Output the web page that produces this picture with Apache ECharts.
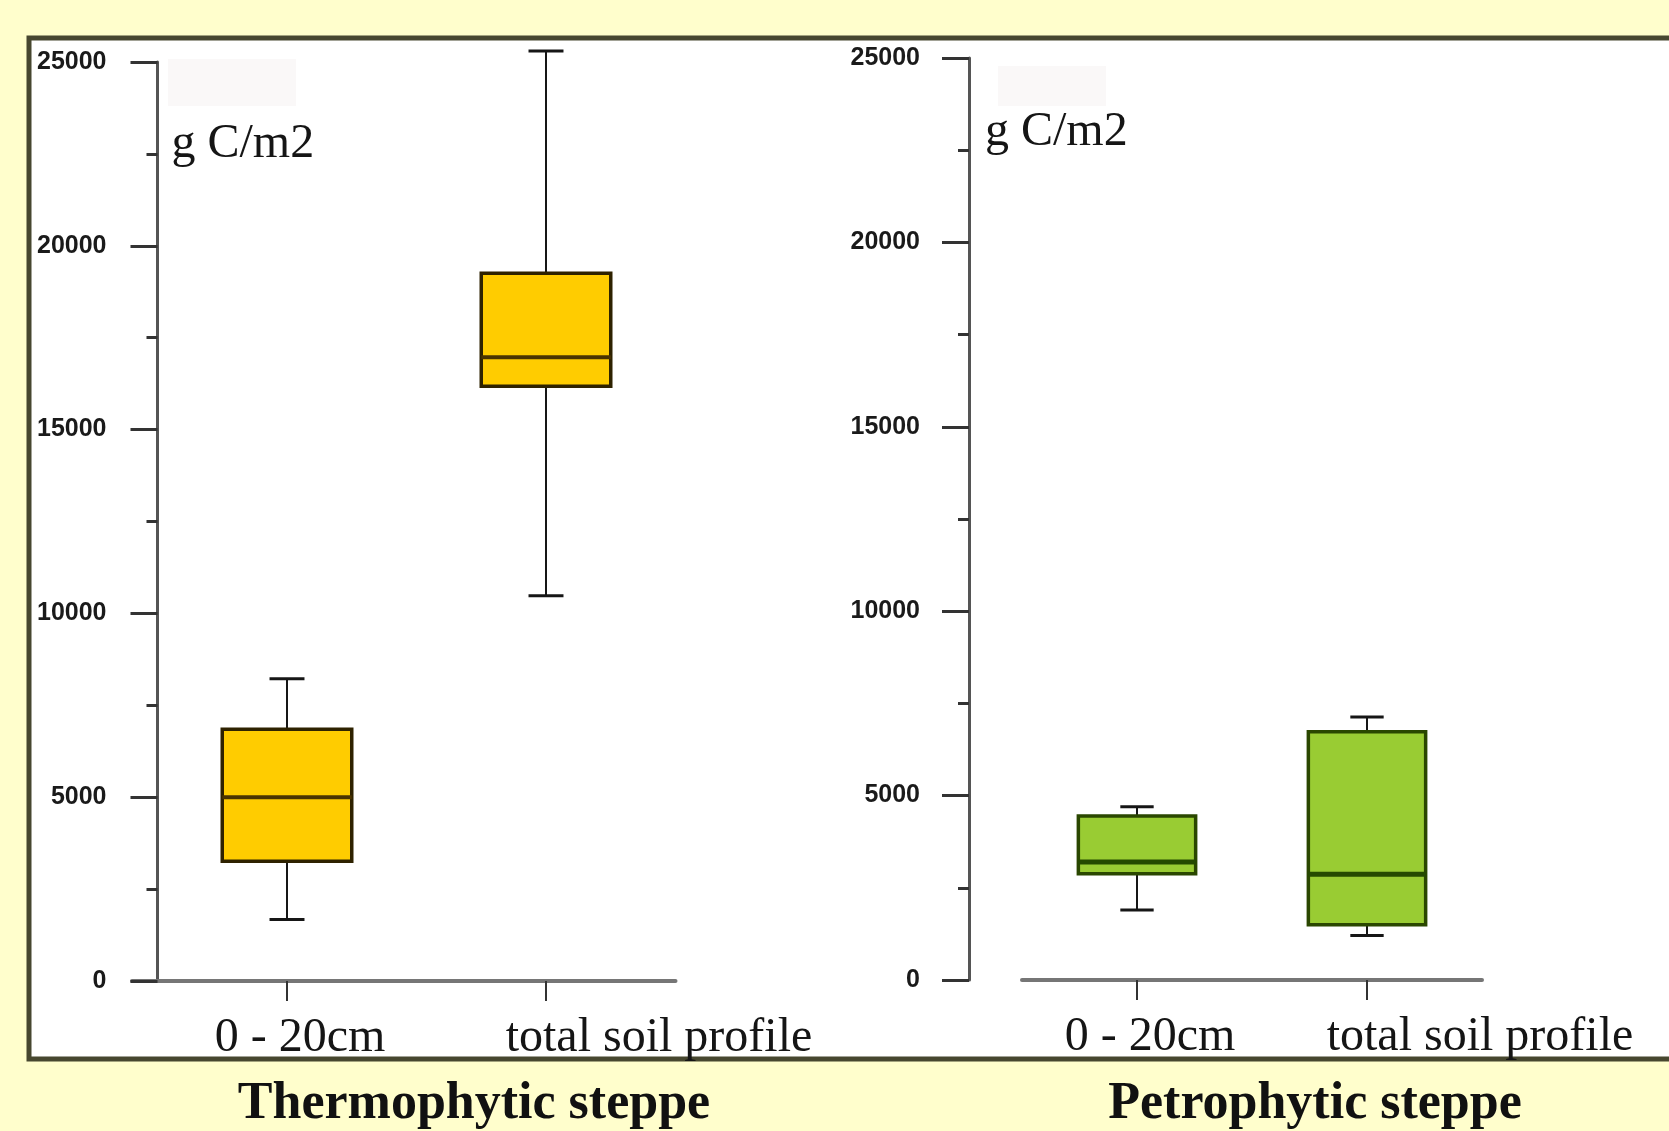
<!DOCTYPE html>
<html>
<head>
<meta charset="utf-8">
<script src="https://cdn.jsdelivr.net/npm/echarts@6/dist/echarts.min.js"></script>
<style>
html, body { margin: 0; padding: 0; background: #FFFECC; }
#chart { width: 1669px; height: 1131px; }
</style>
</head>
<body>
<div id="chart"></div>
<script>
// ---- data ----
const categories = ['0 - 20cm', 'total soil profile'];
const panelTitles = ['Thermophytic steppe', 'Petrophytic steppe'];
const unitLabel = 'g C/m2';
const yMin = 0;
const yMax = 25000;
const yStep = 5000;

// Thermophytic steppe: [0-20cm, total soil profile]
const thermoMin    = [1670, 10480];
const thermoQ1     = [3260, 16180];
const thermoMedian = [5000, 16970];
const thermoQ3     = [6850, 19250];
const thermoMax    = [8220, 25300];

// Petrophytic steppe
const petroMin     = [1900, 1210];
const petroQ1      = [2880, 1500];
const petroMedian  = [3200, 2870];
const petroQ3      = [4450, 6730];
const petroMax     = [4700, 7130];

// ---- build ----
function rows(mn, q1, md, q3, mx) {
  return categories.map((c, i) => [i, mn[i], q1[i], md[i], q3[i], mx[i]]);
}

function makeRender(st) {
  return function (params, api) {
    const i = api.value(0);
    const band = api.size([1, 0])[0];
    const bw = band * st.boxRatio;
    const cw = band * st.capRatio;
    const c = k => api.coord([i, api.value(k)]);
    const pMin = c(1), pQ1 = c(2), pMed = c(3), pQ3 = c(4), pMax = c(5);
    const x = pMin[0];
    const wStyle = { stroke: '#161616', lineWidth: 2 };
    const cStyle = { stroke: '#161616', lineWidth: 3 };
    return {
      type: 'group',
      children: [
        { type: 'line', shape: { x1: x, y1: pQ1[1], x2: x, y2: pMin[1] }, style: wStyle },
        { type: 'line', shape: { x1: x, y1: pQ3[1], x2: x, y2: pMax[1] }, style: wStyle },
        { type: 'line', shape: { x1: x - cw / 2, y1: pMin[1], x2: x + cw / 2, y2: pMin[1] }, style: cStyle },
        { type: 'line', shape: { x1: x - cw / 2, y1: pMax[1], x2: x + cw / 2, y2: pMax[1] }, style: cStyle },
        { type: 'rect', shape: { x: x - bw / 2, y: pQ3[1], width: bw, height: pQ1[1] - pQ3[1] },
          style: { fill: st.fill, stroke: st.stroke, lineWidth: 3.5 } },
        { type: 'line', shape: { x1: x - bw / 2, y1: pMed[1], x2: x + bw / 2, y2: pMed[1] },
          style: { stroke: st.median, lineWidth: st.medianWidth } }
      ]
    };
  };
}

const serif = "'Liberation Serif', 'Times New Roman', serif";
const sans = "'Liberation Sans', Arial, sans-serif";

function xAxisCfg(gridIndex) {
  return {
    type: 'category', gridIndex: gridIndex, data: categories,
    axisLine: { show: true, lineStyle: { color: '#767676', width: 4 } },
    axisTick: { show: true, alignWithLabel: true, length: 20, lineStyle: { color: '#333', width: 2 } },
    splitLine: { show: false },
    axisLabel: {
      interval: 0, margin: 33, color: '#151515',
      fontFamily: serif, fontSize: 48,
      formatter: function (v, idx) { return '{c' + idx + '|' + v + '}'; },
      rich: {
        c0: { fontFamily: serif, fontSize: 48, color: '#151515', padding: [0, 0, 0, 26] },
        c1: { fontFamily: serif, fontSize: 48, color: '#151515', padding: [0, 0, 0, 226] }
      }
    }
  };
}

function yAxisCfg(gridIndex, offset, labelMargin, nameGap, namePad) {
  return {
    type: 'value', gridIndex: gridIndex, min: yMin, max: yMax, interval: yStep,
    offset: offset,
    axisLine: { show: true, lineStyle: { color: '#555', width: 3 } },
    axisTick: { show: true, length: 27, lineStyle: { color: '#333', width: 3 } },
    minorTick: { show: true, splitNumber: 2, length: 11, lineStyle: { color: '#333', width: 3 } },
    splitLine: { show: false },
    axisLabel: { margin: labelMargin, color: '#1a1a1a', fontFamily: sans, fontWeight: 'bold', fontSize: 25,
      formatter: function (v) { return String(v); } },
    name: unitLabel, nameLocation: 'end', nameGap: nameGap,
    nameTextStyle: { fontFamily: serif, fontSize: 48, color: '#151515', align: 'left',
      verticalAlign: 'middle', padding: [0, 0, 0, namePad] }
  };
}

const chart = echarts.init(document.getElementById('chart'), null, { renderer: 'canvas' });

const option = {
  backgroundColor: '#FFFECC',
  animation: false,
  graphic: [
    { type: 'rect', z: -100, silent: true,
      shape: { x: 29, y: 38, width: 1700, height: 1021 },
      style: { fill: '#ffffff', stroke: '#47472f', lineWidth: 5 } },
    { type: 'rect', z: -90, silent: true,
      shape: { x: 168, y: 59, width: 128, height: 47 }, style: { fill: '#faf8f8' } },
    { type: 'rect', z: -90, silent: true,
      shape: { x: 998, y: 66, width: 108, height: 40 }, style: { fill: '#faf8f8' } },
    { type: 'text', x: 474, y: 1105, silent: true,
      style: { text: panelTitles[0], fontFamily: serif, fontWeight: 'bold', fontSize: 52,
        fill: '#111', align: 'center', verticalAlign: 'middle' } },
    { type: 'text', x: 1315, y: 1105, silent: true,
      style: { text: panelTitles[1], fontFamily: serif, fontWeight: 'bold', fontSize: 52,
        fill: '#111', align: 'center', verticalAlign: 'middle' } }
  ],
  grid: [
    { left: 157.5, top: 62, width: 518, height: 919 },
    { left: 1022, top: 58, width: 460, height: 922 },
    { left: 132, top: 62, width: 26, height: 919 }
  ],
  xAxis: [
    xAxisCfg(0),
    xAxisCfg(1),
    { type: 'value', gridIndex: 2, min: 0, max: 1,
      axisLine: { show: true, onZero: false, lineStyle: { color: '#767676', width: 4 } },
      axisTick: { show: false }, axisLabel: { show: false }, splitLine: { show: false } }
  ],
  yAxis: [
    yAxisCfg(0, 0, 51, -82, 14),
    yAxisCfg(1, 53, 49, -74, 16),
    { type: 'value', gridIndex: 2, show: false, min: 0, max: 1 }
  ],
  series: [
    {
      type: 'custom', name: panelTitles[0], xAxisIndex: 0, yAxisIndex: 0,
      renderItem: makeRender({ fill: '#FFCC00', stroke: '#2e2200', median: '#4a3300', medianWidth: 4,
        boxRatio: 0.5, capRatio: 0.135 }),
      encode: { x: 0, y: [1, 2, 3, 4, 5] },
      data: rows(thermoMin, thermoQ1, thermoMedian, thermoQ3, thermoMax)
    },
    {
      type: 'custom', name: panelTitles[1], xAxisIndex: 1, yAxisIndex: 1,
      renderItem: makeRender({ fill: '#99CC33', stroke: '#2a4700', median: '#254a00', medianWidth: 5,
        boxRatio: 0.51, capRatio: 0.145 }),
      encode: { x: 0, y: [1, 2, 3, 4, 5] },
      data: rows(petroMin, petroQ1, petroMedian, petroQ3, petroMax)
    }
  ]
};

chart.setOption(option);
</script>
</body>
</html>
